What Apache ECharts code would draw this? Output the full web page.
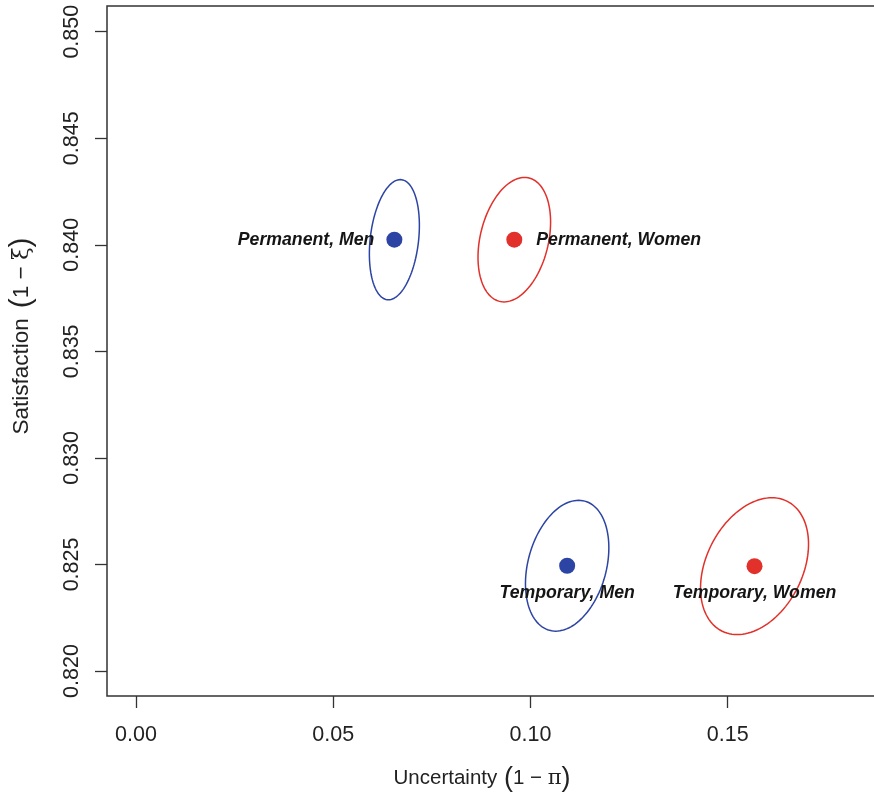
<!DOCTYPE html>
<html>
<head>
<meta charset="utf-8">
<script src="https://cdn.jsdelivr.net/npm/echarts@6/dist/echarts.min.js"></script>
<style>html,body{margin:0;padding:0;background:#fff;}#c{width:874px;height:795px;}</style>
</head>
<body>
<div id="c"></div>
<script>
// ---- data ----
const groups = ['Permanent, Men', 'Permanent, Women', 'Temporary, Men', 'Temporary, Women'];
const uncertainty = [0.0655, 0.0959, 0.1093, 0.1568];      // x: 1 - pi
const satisfaction = [0.84024, 0.84024, 0.82494, 0.82492]; // y: 1 - xi
// confidence ellipse: offset of the top point from centre (x, y) and half-width in x
const ellTopDx = [0.0015, 0.0026, 0.0029, 0.0044];
const ellTopDy = [0.00282, 0.00292, 0.00307, 0.00321];
const ellHalfWidth = [0.00634, 0.0092, 0.01057, 0.01369];
const groupColor = ['blue', 'red', 'blue', 'red'];
const xTicks = [0, 0.05, 0.10, 0.15];
const yTicks = [0.820, 0.825, 0.830, 0.835, 0.840, 0.845, 0.850];

const COLORS = { blue: '#2C44A4', red: '#E2302A' };
const labelPos = ['left', 'right', 'bottom', 'bottom'];

const chart = echarts.init(document.getElementById('c'), null, { renderer: 'canvas' });

const pointData = groups.map((g, i) => ({
  name: g,
  value: [uncertainty[i], satisfaction[i]],
  itemStyle: { color: COLORS[groupColor[i]], opacity: 1 },
  label: { position: labelPos[i], distance: labelPos[i] === 'bottom' ? 10 : (labelPos[i] === 'left' ? 12 : 14) }
}));

const ellData = groups.map((g, i) => [uncertainty[i], satisfaction[i], ellTopDx[i], ellTopDy[i], ellHalfWidth[i], i]);

const font = 'Liberation Sans, Arial, Helvetica, sans-serif';

chart.setOption({
  animation: false,
  backgroundColor: '#fff',
  grid: { left: 107, top: 6, width: 768, height: 690, show: true, borderColor: '#333', borderWidth: 1.5, backgroundColor: 'transparent', outerBoundsMode: 'none', containLabel: false },
  xAxis: {
    type: 'value', min: -0.007352, max: 0.18734,
    splitLine: { show: false },
    axisLine: { show: false, onZero: false },
    axisTick: { show: true, length: 12, lineStyle: { color: '#333', width: 1.3 }, customValues: xTicks },
    axisLabel: { customValues: xTicks, formatter: v => v.toFixed(2), fontSize: 21.5, color: '#222', fontFamily: font, margin: 28 },
    name: '{a|Uncertainty}  {p|(}{a|1 \u2212 }{s|\u03c0}{p|)}',
    nameLocation: 'middle', nameGap: 69,
    nameTextStyle: {
      padding: [0, 18, 0, 0],
      rich: {
        a: { fontSize: 20.5, fontFamily: font, color: '#222' },
        s: { fontSize: 21, fontFamily: 'DejaVu Serif, serif', color: '#222' },
        p: { fontSize: 27, fontFamily: font, color: '#222' }
      }
    }
  },
  yAxis: {
    type: 'value', min: 0.818827, max: 0.851206,
    splitLine: { show: false },
    axisLine: { show: false, onZero: false },
    axisTick: { show: true, length: 12, lineStyle: { color: '#333', width: 1.3 }, customValues: yTicks },
    axisLabel: { customValues: yTicks, formatter: v => v.toFixed(3), fontSize: 21.5, color: '#222', fontFamily: font, rotate: 90, margin: 24 },
    name: '{a|Satisfaction}   {p|(}{a|1 \u2212 }{s|\u03be}{p|)}',
    nameLocation: 'middle', nameGap: 70,
    nameTextStyle: {
      padding: [0, 0, 0, 30],
      rich: {
        a: { fontSize: 22.5, fontFamily: font, color: '#222' },
        s: { fontSize: 23, fontFamily: 'DejaVu Serif, serif', color: '#222' },
        p: { fontSize: 30, fontFamily: font, color: '#222' }
      }
    }
  },
  series: [
    {
      type: 'custom',
      coordinateSystem: 'cartesian2d',
      clip: true,
      data: ellData,
      renderItem: function (params, api) {
        const cx = api.value(0), cy = api.value(1);
        const dx = api.value(2), dy = api.value(3), hw = api.value(4);
        const idx = api.value(5);
        const vx = Math.sqrt(Math.max(hw * hw - dx * dx, 0));
        const pts = [];
        const N = 120;
        for (let k = 0; k < N; k++) {
          const t = 2 * Math.PI * k / N;
          pts.push(api.coord([cx + dx * Math.cos(t) + vx * Math.sin(t), cy + dy * Math.cos(t)]));
        }
        return {
          type: 'polygon',
          shape: { points: pts, smooth: 0 },
          style: { fill: 'none', stroke: COLORS[groupColor[idx]], lineWidth: 1.5 }
        };
      },
      z: 1
    },
    {
      type: 'scatter',
      symbol: 'circle',
      symbolSize: 16,
      itemStyle: { opacity: 1 },
      data: pointData,
      label: {
        show: true,
        formatter: p => p.name,
        fontSize: 17.7,
        fontStyle: 'italic',
        fontWeight: 'bold',
        fontFamily: font,
        color: '#151515'
      },
      z: 3
    }
  ]
});
</script>
</body>
</html>
